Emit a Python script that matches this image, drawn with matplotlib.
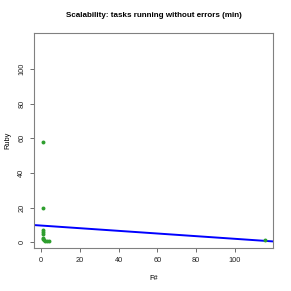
import matplotlib
matplotlib.use('Agg')
import matplotlib.pyplot as plt
import numpy as np

plt.rcParams['font.family'] = ['Liberation Sans', 'DejaVu Sans']

# values
fsharp = [1.0, 0.9, 1.0, 1.0, 1.0, 1.0, 1.0, 1.5, 2.0, 3.0, 4.0, 115.3]
ruby = [57.7, 19.6, 7.0, 6.0, 5.0, 2.5, 2.0, 1.5, 1.0, 1.0, 1.0, 1.3]
title = 'Scalability: tasks running without errors (min)'

fig = plt.figure(figsize=(2.91, 2.91), dpi=100)
ax = fig.add_axes([0.118, 0.149, 0.821, 0.737])

ax.scatter(fsharp, ruby, s=8, color='#2e9e2e', zorder=3, linewidths=0)

slope, intercept = np.polyfit(fsharp, ruby, 1)
xs = np.array([-10, 130])
ax.plot(xs, intercept + slope * xs, color='#0000ff', lw=1.4, zorder=2)

ax.set_xlim(-3.45, 119.7)
ax.set_ylim(-3.1, 120.6)
ax.set_xticks(np.arange(0, 101, 20))
ax.set_yticks(np.arange(0, 101, 20))
ax.tick_params(labelsize=5.3, length=3, width=0.6, color='#555555',
               labelcolor='#222222', pad=3.5)
for lab in ax.get_yticklabels():
    lab.set_rotation(90)
    lab.set_va('center')
for sp in ax.spines.values():
    sp.set_color('#808080')
    sp.set_linewidth(0.8)

ax.set_xlabel('F#', fontsize=5.3, labelpad=8)
ax.set_ylabel('Ruby', fontsize=5.3, labelpad=5)
fig.text(0.529, 0.946, title, fontsize=5.8, fontweight='bold',
         ha='center', va='center')

plt.savefig('out.png', dpi=100)
plt.close(fig)
